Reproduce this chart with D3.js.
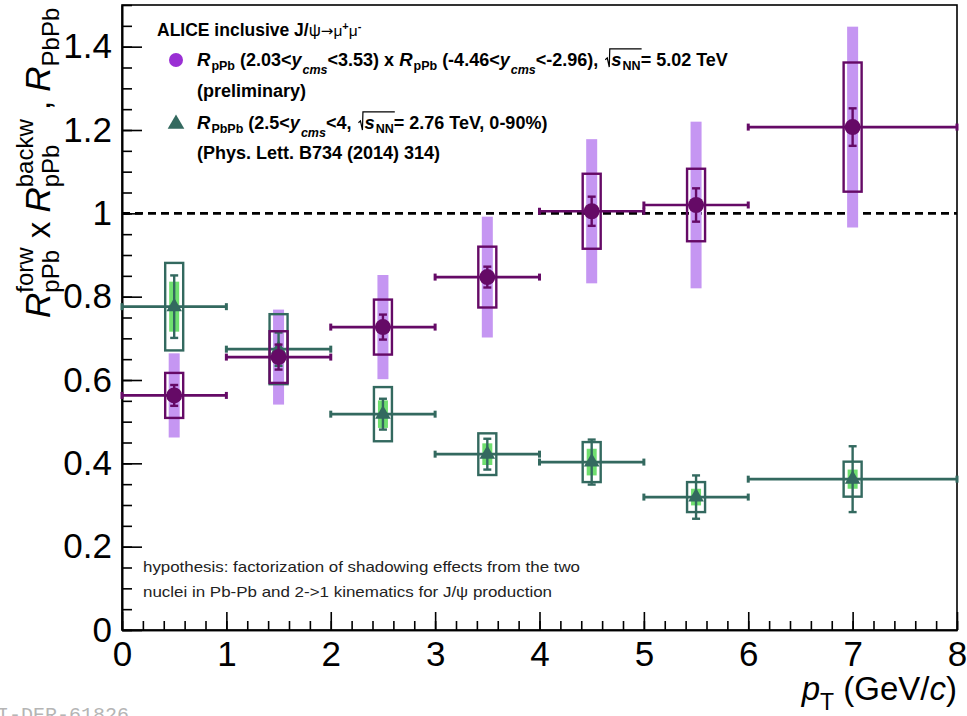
<!DOCTYPE html>
<html>
<head>
<meta charset="utf-8">
<script src="https://cdn.jsdelivr.net/npm/d3@7"></script>
<style>
  html, body { margin: 0; padding: 0; background: #fff; }
  svg { display: block; }
  text { font-family: "Liberation Sans", Arial, Helvetica, sans-serif; }
</style>
</head>
<body>
<svg id="chart" width="967" height="716"></svg>
<script>
// pT bins (GeV/c)
const binLo = [0, 1, 2, 3, 4, 5, 6];
const binHi = [1, 2, 3, 4, 5, 6, 8];
const ptCenter = [0.5, 1.5, 2.5, 3.5, 4.5, 5.5, 7];

// R_pPb(forward) x R_pPb(backward), 5.02 TeV (preliminary)
const prodValue   = [0.563, 0.655, 0.727, 0.847, 1.005, 1.02, 1.207];
const prodStat    = [0.025, 0.03, 0.03, 0.025, 0.035, 0.04, 0.045];
const prodSysBox  = [0.054, 0.062, 0.066, 0.073, 0.09, 0.087, 0.155];
const prodSysBand = [0.101, 0.114, 0.125, 0.145, 0.173, 0.2, 0.241];

// R_PbPb, 2.76 TeV, 0-90%
const aaValue   = [0.776, 0.674, 0.518, 0.422, 0.403, 0.319, 0.362];
const aaStat    = [0.075, 0.04, 0.037, 0.037, 0.054, 0.052, 0.079];
const aaSysBox  = [0.105, 0.084, 0.065, 0.05, 0.048, 0.036, 0.042];
const aaSysBand = [0.06, 0.05, 0.033, 0.026, 0.032, 0.02, 0.023];

const xMajorTicks = [0, 1, 2, 3, 4, 5, 6, 7, 8];
const yMajorTicks = [0, 0.2, 0.4, 0.6, 0.8, 1, 1.2, 1.4];
const yTickLabels = ["0", "0.2", "0.4", "0.6", "0.8", "1", "1.2", "1.4"];

const C = {
  prod: "#650a66", prodBand: "#c596f2", prodLegend: "#9a2fd4",
  aa: "#33695f", aaBand: "#6fdf6f"
};

const svg = d3.select("#chart");
const x = d3.scaleLinear().domain([0, 8]).range([122, 957]);
const y = d3.scaleLinear().domain([0, 1.5]).range([630, 5]);

// frame
svg.append("rect")
  .attr("x", x(0)).attr("y", y(1.5))
  .attr("width", x(8) - x(0)).attr("height", y(0) - y(1.5))
  .attr("fill", "none").attr("stroke", "#000").attr("stroke-width", 1.6);

// axes: major + minor ticks pointing into the frame
function styleAxis(g) {
  g.select(".domain").attr("stroke", "#000").attr("stroke-width", 1.6);
  g.selectAll(".tick line").attr("stroke", "#000").attr("stroke-width", 1.6);
  g.selectAll(".tick text").attr("fill", "#000")
    .style("font-family", "'Liberation Sans', Arial, sans-serif");
}
const xMinor = d3.range(0, 8.001, 0.2).map(v => +v.toFixed(2));
const yMinor = d3.range(0, 1.5001, 0.05).map(v => +v.toFixed(2));

svg.append("g").attr("transform", `translate(0,${y(0)})`)
  .call(d3.axisBottom(x).tickValues(xMinor).tickSize(-9).tickSizeOuter(0).tickFormat(""))
  .call(styleAxis);
svg.append("g").attr("transform", `translate(0,${y(0)})`)
  .call(d3.axisBottom(x).tickValues(xMajorTicks).tickSize(-18).tickSizeOuter(0)
    .tickPadding(10).tickFormat(d3.format("d")))
  .call(styleAxis)
  .call(g => g.selectAll(".tick text").attr("font-size", 35).attr("dy", "0.74em"));

svg.append("g").attr("transform", `translate(${x(0)},0)`)
  .call(d3.axisLeft(y).tickValues(yMinor).tickSize(-10).tickSizeOuter(0).tickFormat(""))
  .call(styleAxis);
svg.append("g").attr("transform", `translate(${x(0)},0)`)
  .call(d3.axisLeft(y).tickValues(yMajorTicks).tickSize(-20).tickSizeOuter(0)
    .tickPadding(10).tickFormat((d, i) => yTickLabels[i]))
  .call(styleAxis)
  .call(g => g.selectAll(".tick text").attr("font-size", 35));

// reference line at unity
svg.append("line")
  .attr("x1", x(0)).attr("x2", x(8)).attr("y1", y(1)).attr("y2", y(1))
  .attr("stroke", "#000").attr("stroke-width", 2.6).attr("stroke-dasharray", "8,5");

// data
function series(vals, stat, box, band, col, bandCol, boxW, bandW) {
  const rows = vals.map((v, i) => ({ v, s: stat[i], b: box[i], c: band[i], lo: binLo[i], hi: binHi[i], pt: ptCenter[i] }));
  return { rows, col, bandCol, boxW, bandW };
}
const prod = series(prodValue, prodStat, prodSysBox, prodSysBand, C.prod, C.prodBand, 18, 11);
const aa = series(aaValue, aaStat, aaSysBox, aaSysBand, C.aa, C.aaBand, 18, 10);

function drawBands(S) {
  svg.append("g").selectAll("rect").data(S.rows).join("rect")
    .attr("x", d => x(d.pt) - S.bandW / 2).attr("width", S.bandW)
    .attr("y", d => y(d.v + d.c)).attr("height", d => y(d.v - d.c) - y(d.v + d.c))
    .attr("fill", S.bandCol);
}
function drawPoints(S, marker) {
  const g = svg.append("g");
  // systematic boxes
  g.selectAll("rect.box").data(S.rows).join("rect").attr("class", "box")
    .attr("x", d => x(d.pt) - S.boxW / 2).attr("width", S.boxW)
    .attr("y", d => y(d.v + d.b)).attr("height", d => y(d.v - d.b) - y(d.v + d.b))
    .attr("fill", "none").attr("stroke", S.col).attr("stroke-width", 2.4);
  // bin-width bars with end marks
  g.selectAll("line.xe").data(S.rows).join("line").attr("class", "xe")
    .attr("x1", d => x(d.lo)).attr("x2", d => x(d.hi))
    .attr("y1", d => y(d.v)).attr("y2", d => y(d.v))
    .attr("stroke", S.col).attr("stroke-width", 2.6);
  ["lo", "hi"].forEach(k => {
    g.selectAll("line.xc" + k).data(S.rows).join("line").attr("class", "xc" + k)
      .attr("x1", d => x(d[k])).attr("x2", d => x(d[k]))
      .attr("y1", d => y(d.v) - 3.5).attr("y2", d => y(d.v) + 3.5)
      .attr("stroke", S.col).attr("stroke-width", 3);
  });
  // statistical errors
  g.selectAll("line.se").data(S.rows).join("line").attr("class", "se")
    .attr("x1", d => x(d.pt)).attr("x2", d => x(d.pt))
    .attr("y1", d => y(d.v + d.s)).attr("y2", d => y(d.v - d.s))
    .attr("stroke", S.col).attr("stroke-width", 2.4);
  [1, -1].forEach(sg => {
    g.selectAll("line.sc" + sg).data(S.rows).join("line").attr("class", "sc" + sg)
      .attr("x1", d => x(d.pt) - 4).attr("x2", d => x(d.pt) + 4)
      .attr("y1", d => y(d.v + sg * d.s)).attr("y2", d => y(d.v + sg * d.s))
      .attr("stroke", S.col).attr("stroke-width", 2.4);
  });
  g.selectAll("path.m").data(S.rows).join("path").attr("class", "m")
    .attr("transform", d => `translate(${x(d.pt)},${y(d.v)})`)
    .attr("d", marker).attr("fill", S.col);
}
drawBands(aa);
drawBands(prod);
drawPoints(aa, d3.symbol(d3.symbolTriangle, 105)());
drawPoints(prod, d3.symbol(d3.symbolCircle, 200)());

// rich text: sequence of runs with sub/superscripts
const NB = s => s.replace(/ /g, "\u00A0");
function rich(parent, x0, y0, runs, base) {
  const g = parent.append("g");
  let cx = x0, lastStart = x0, lastEnd = x0;
  runs.forEach(r => {
    if (r.sqrt) {
      const start = cx + 2;
      const inner = rich(g, start + 6, y0, r.sqrt, base);
      const top = y0 - base.size * 0.95;
      g.append("path")
        .attr("d", `M${start},${y0 - base.size * 0.35} L${start + 2},${y0 - base.size * 0.45} L${start + 4},${y0 + 1} L${start + 4.5},${top} H${inner + 1}`)
        .attr("fill", "none").attr("stroke", base.fill || "#000").attr("stroke-width", 1.2);
      cx = inner; lastStart = start; lastEnd = cx;
      return;
    }
    const size = r.size || base.size;
    const sx = (r.stack ? lastStart : cx) + (r.gap || 0);
    const t = g.append("text")
      .attr("x", sx).attr("y", y0 - (r.dy || 0))
      .attr("font-size", size)
      .attr("font-weight", (r.bold ?? base.bold) ? "bold" : "normal")
      .attr("font-style", r.italic ? "italic" : "normal")
      .attr("fill", base.fill || "#000")
      .text(NB(r.t));
    if (r.font) t.style("font-family", r.font);
    const w = t.node().getComputedTextLength();
    if (r.stack) { cx = Math.max(lastEnd, sx + w); }
    else { lastStart = sx; cx = sx + w; }
    lastEnd = Math.max(lastEnd, cx);
    if (!r.stack) lastEnd = cx;
  });
  return cx;
}

// legend
const lg = svg.append("g");
const LB = { size: 18, bold: true };
const subS = 12.5;
rich(lg, 157, 36, [
  { t: "ALICE inclusive J/", size: 17.5 }, { t: "ψ", size: 17, bold: false },
  { t: "→", size: 15, bold: false, font: "'DejaVu Sans', sans-serif" },
  { t: "μ", size: 15.5, bold: false }, { t: "+", size: 11, dy: 6 },
  { t: "μ", size: 15.5, bold: false }, { t: "-", size: 11, dy: 6 }
], LB);
lg.append("circle").attr("cx", 176).attr("cy", 60).attr("r", 7).attr("fill", C.prodLegend);
rich(lg, 197, 66, [
  { t: "R", italic: true, size: 18.5 }, { t: "pPb", size: subS, dy: -4, gap: 1 },
  { t: " (2.03<" }, { t: "y", italic: true }, { t: "cms", italic: true, size: subS, dy: -8, gap: 1 },
  { t: "<3.53) x " }, { t: "R", italic: true, size: 18.5 }, { t: "pPb", size: subS, dy: -4, gap: 1 },
  { t: " (-4.46<" }, { t: "y", italic: true }, { t: "cms", italic: true, size: subS, dy: -8, gap: 1 },
  { t: "<-2.96), " },
  { sqrt: [{ t: "s", italic: true, size: 18.5 }, { t: "NN", size: subS, dy: -4, gap: 1 }] },
  { t: "= 5.02 TeV" }
], LB);
rich(lg, 197, 97, [{ t: "(preliminary)" }], LB);
lg.append("path").attr("transform", "translate(176,124)")
  .attr("d", d3.symbol(d3.symbolTriangle, 120)()).attr("fill", C.aa);
rich(lg, 197, 129, [
  { t: "R", italic: true, size: 18.5 }, { t: "PbPb", size: subS, dy: -4, gap: 1 },
  { t: " (2.5<" }, { t: "y", italic: true }, { t: "cms", italic: true, size: subS, dy: -8, gap: 1 },
  { t: "<4, " },
  { sqrt: [{ t: "s", italic: true, size: 18.5 }, { t: "NN", size: subS, dy: -4, gap: 1 }] },
  { t: "= 2.76 TeV, 0-90%)" }
], LB);
rich(lg, 197, 159, [{ t: "(Phys. Lett. B734 (2014) 314)" }], LB);

// hypothesis note
const note = svg.append("g").attr("fill", "#222");
note.append("text").attr("x", 143).attr("y", 572).attr("font-size", 15)
  .attr("textLength", 437).attr("lengthAdjust", "spacingAndGlyphs")
  .text("hypothesis: factorization of shadowing effects from the two");
note.append("text").attr("x", 143).attr("y", 597).attr("font-size", 15)
  .attr("textLength", 409).attr("lengthAdjust", "spacingAndGlyphs")
  .text("nuclei in Pb-Pb and 2->1 kinematics for J/ψ production");

// x-axis title, right-aligned at the frame edge
const xt = svg.append("g");
const xtEnd = rich(xt, 0, 700, [
  { t: "p", italic: true, size: 33 }, { t: "T", size: 23, dy: -10 },
  { t: " (GeV/", size: 33 }, { t: "c", italic: true, size: 33 }, { t: ")", size: 33 }
], { size: 33, bold: false });
xt.attr("transform", `translate(${x(8) - xtEnd},0)`);

// y-axis title, rotated
const yt = svg.append("g");
rich(yt, 0, 0, [
  { t: "R", italic: true, size: 35 }, { t: "pPb", size: 24, dy: -9 }, { t: "forw", size: 24, dy: 17, stack: true },
  { t: " x ", size: 33 },
  { t: "R", italic: true, size: 35 }, { t: "pPb", size: 24, dy: -9 }, { t: "backw", size: 24, dy: 17, stack: true },
  { t: " , ", size: 33 },
  { t: "R", italic: true, size: 35 }, { t: "PbPb", size: 24, dy: -9 }
], { size: 35, bold: false });
yt.attr("transform", `translate(50,${318}) rotate(-90)`);

// document reference stamp
svg.append("text").attr("x", -27).attr("y", 721).attr("font-size", 20)
  .attr("fill", "#b5b5b5").style("font-family", "'Liberation Mono', 'DejaVu Sans Mono', monospace")
  .text("ALI-DER-61826");
</script>
</body>
</html>
